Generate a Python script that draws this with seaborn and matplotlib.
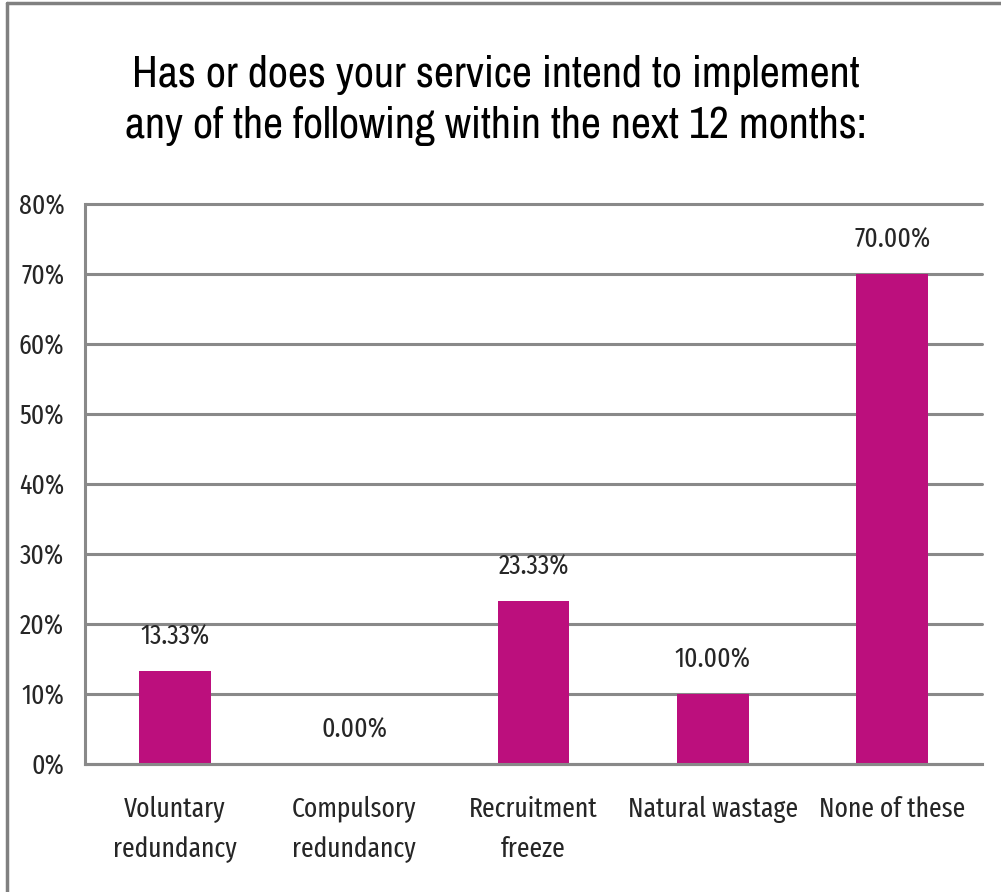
import matplotlib
matplotlib.use('Agg')
import matplotlib.pyplot as plt
from matplotlib.lines import Line2D
from matplotlib.ticker import FixedLocator, PercentFormatter
import seaborn as sns
import pandas as pd

# data
categories = ['Voluntary\nredundancy', 'Compulsory\nredundancy', 'Recruitment\nfreeze',
              'Natural wastage', 'None of these']
values = [13.33, 0.00, 23.33, 10.00, 70.00]
title = 'Has or does your service intend to implement\nany of the following within the next 12 months:'

df = pd.DataFrame({'category': categories, 'pct': values})

sns.set_style('white')
label_font = ['Fira Sans Extra Condensed', 'Fira Sans Condensed', 'DejaVu Sans']
title_font = ['Archivo Narrow', 'Roboto Condensed', 'DejaVu Sans']
plt.rcParams['font.family'] = label_font
plt.rcParams['font.weight'] = 'normal'

bar_col = '#BC0F7D'
grid_col = '#898989'
txt_col = '#262626'

fig = plt.figure(figsize=(10.01, 8.92), dpi=100)
ax = fig.add_axes([0.085, 0.1435, 0.896, 0.6278])

sns.barplot(data=df, x='category', y='pct', color=bar_col, width=0.4,
            saturation=1, linewidth=0, ax=ax)

ax.set_ylim(0, 80)
ax.set_xlim(-0.5, 4.5)
ax.set_yticks(range(0, 81, 10))
ax.yaxis.set_major_formatter(PercentFormatter(decimals=0))
ax.yaxis.grid(True, color=grid_col, linewidth=2.2)
for gl in ax.get_ygridlines():
    gl.set_clip_on(False)
ax.set_axisbelow(True)

for s in ['top', 'right']:
    ax.spines[s].set_visible(False)
for s in ['left', 'bottom']:
    ax.spines[s].set_color(grid_col)
    ax.spines[s].set_linewidth(2.2)

ax.tick_params(axis='y', which='major', length=6, width=2.2, color=grid_col,
               labelsize=20, pad=9, labelcolor=txt_col)
ax.tick_params(axis='x', which='major', length=0, labelsize=20, pad=23,
               labelcolor=txt_col)
for lab in ax.get_xticklabels() + ax.get_yticklabels():
    lab.set_fontweight('normal')
for lab in ax.get_xticklabels():
    lab.set_linespacing(1.6)
ax.xaxis.set_minor_locator(FixedLocator([i - 0.5 for i in range(6)]))
ax.tick_params(axis='x', which='minor', length=8, width=2.2, color=grid_col)

ax.set_xlabel('')
ax.set_ylabel('')

ax.bar_label(ax.containers[0], labels=[f'{v:.2f}%' for v in values],
             padding=15, fontsize=20, color=txt_col, fontweight='normal')

fig.text(0.495, 0.887, title, ha='center', va='center', fontsize=31.5,
         linespacing=1.35, color='black', family=title_font, fontweight='normal')

# outer chart border (left and top visible)
fig.add_artist(Line2D([7 / 1001, 7 / 1001], [0, 1 - 3 / 892], color='#808080',
                      linewidth=2.5, transform=fig.transFigure))
fig.add_artist(Line2D([7 / 1001, 1], [1 - 3 / 892, 1 - 3 / 892], color='#808080',
                      linewidth=2.5, transform=fig.transFigure))

fig.savefig('out.png', dpi=100)
